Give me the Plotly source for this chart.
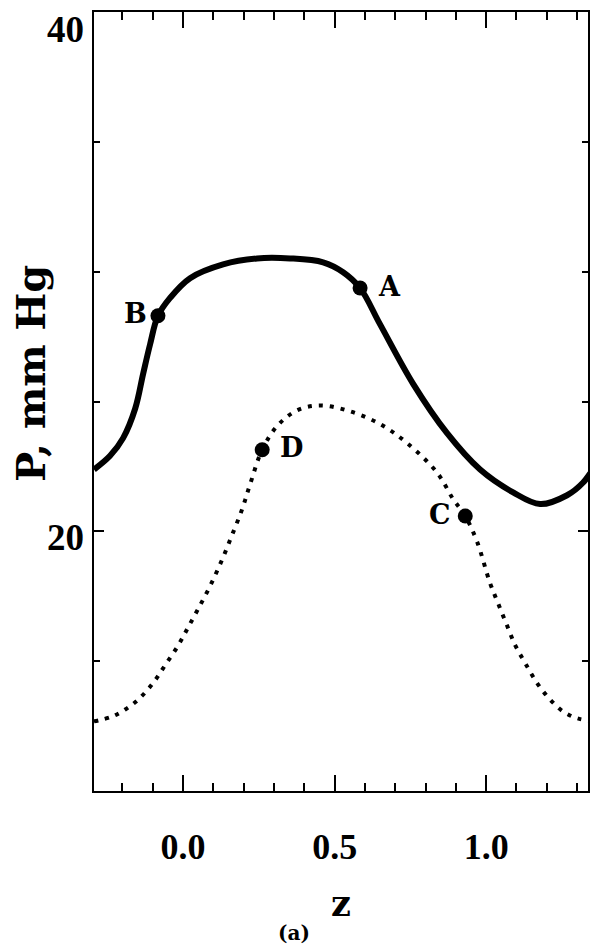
import plotly.graph_objects as go

# solid curve (pressure along z)
z_solid = [-0.294, -0.241, -0.198, -0.158, -0.132, -0.109, -0.083, -0.043, 0.023, 0.132,
           0.244, 0.353, 0.462, 0.528, 0.584, 0.650, 0.759, 0.871, 0.980, 1.089,
           1.178, 1.267, 1.320, 1.360]
p_solid = [22.38, 22.91, 23.59, 24.73, 26.06, 27.20, 28.30, 28.99, 29.75, 30.28,
           30.51, 30.51, 30.36, 29.98, 29.37, 27.97, 25.68, 23.78, 22.38, 21.50,
           21.05, 21.39, 21.88, 22.53]

# dotted curve
z_dot = [-0.294, -0.234, -0.191, -0.148, -0.099, -0.059, -0.016, 0.016, 0.050, 0.089,
         0.129, 0.162, 0.195, 0.221, 0.261, 0.310, 0.376, 0.452, 0.551, 0.650,
         0.739, 0.838, 0.891, 0.931, 0.970, 1.013, 1.040, 1.069, 1.096, 1.129,
         1.168, 1.211, 1.254, 1.300, 1.360]
p_dot = [12.68, 12.87, 13.14, 13.52, 14.16, 14.85, 15.61, 16.29, 17.02, 17.89,
         18.92, 19.87, 20.86, 21.81, 23.14, 24.05, 24.66, 24.85, 24.62, 24.13,
         23.40, 22.26, 21.24, 20.59, 19.60, 18.00, 17.21, 16.37, 15.61, 14.92,
         14.16, 13.52, 13.06, 12.80, 12.68]

# marked points
pt_names = ["A", "B", "C", "D"]
pt_z = [0.584, -0.083, 0.931, 0.261]
pt_p = [29.37, 28.30, 20.59, 23.14]
pt_shift = [29, -22, -25, 29]

y_labels = [20, 40]
y_label_shift = [-6, -17]
x_ticks = [0.0, 0.5, 1.0]
x_ticktext = ["0.0", "0.5", "1.0"]

serif = "Liberation Serif"
wide = "DejaVu Serif"

fig = go.Figure()
fig.add_trace(go.Scatter(x=z_solid, y=p_solid, mode="lines", line_shape="spline",
                         line=dict(color="black", width=6), showlegend=False))
fig.add_trace(go.Scatter(x=z_dot, y=p_dot, mode="lines", line_shape="spline",
                         line=dict(color="black", width=4, dash="4px,7px"), showlegend=False))
fig.add_trace(go.Scatter(x=pt_z, y=pt_p, mode="markers",
                         marker=dict(color="black", size=15), showlegend=False))

for name, zz, pp, sh in zip(pt_names, pt_z, pt_p, pt_shift):
    fig.add_annotation(x=zz, y=pp, text=name, showarrow=False, xshift=sh, yshift=2,
                       font=dict(family=wide, size=27, color="black", weight="bold"))

for v, sh in zip(y_labels, y_label_shift):
    fig.add_annotation(x=0, xref="paper", y=v, yref="y", text=str(v), showarrow=False,
                       xanchor="right", yanchor="middle", xshift=-8, yshift=sh,
                       font=dict(family=serif, size=37, color="black", weight="bold"))

fig.add_annotation(text="(a)", x=0.405, xref="paper", y=-0.1818, yref="paper",
                   xanchor="center", yanchor="middle", showarrow=False,
                   font=dict(family=wide, size=20, color="black", weight="bold"))
fig.add_annotation(text="P, mm Hg", textangle=-90, x=-0.130, xref="paper", y=0.5365,
                   yref="paper", xanchor="center", yanchor="middle", showarrow=False,
                   font=dict(family=wide, size=40, color="black", weight="bold"))

fig.update_xaxes(range=[-0.294, 1.336], tickmode="array", tickvals=x_ticks, ticktext=x_ticktext,
                 ticks="inside", ticklen=16, tickwidth=2, tickcolor="black",
                 minor=dict(dtick=0.1, tick0=0, ticks="inside", ticklen=8, tickwidth=2, tickcolor="black"),
                 showline=True, linecolor="black", linewidth=2, mirror="ticks",
                 showgrid=False, zeroline=False, ticklabelstandoff=23,
                 tickfont=dict(family=serif, size=36, color="black", weight="bold"),
                 title=dict(text="z", standoff=25,
                            font=dict(family=wide, size=35, color="black", weight="bold")))
fig.update_yaxes(range=[10, 40], tickmode="linear", tick0=0, dtick=20, showticklabels=False,
                 ticks="inside", ticklen=10, tickwidth=2, tickcolor="black",
                 minor=dict(dtick=5, tick0=0, ticks="inside", ticklen=6, tickwidth=2, tickcolor="black"),
                 showline=True, linecolor="black", linewidth=2, mirror="ticks",
                 showgrid=False, zeroline=False)

# page body adds an 8px margin all round, so the figure is sized to fit inside the window
fig.update_layout(width=592, height=936, plot_bgcolor="white", paper_bgcolor="white",
                  margin=dict(l=86, r=12, t=2, b=153))

fig.write_html("out.html")
